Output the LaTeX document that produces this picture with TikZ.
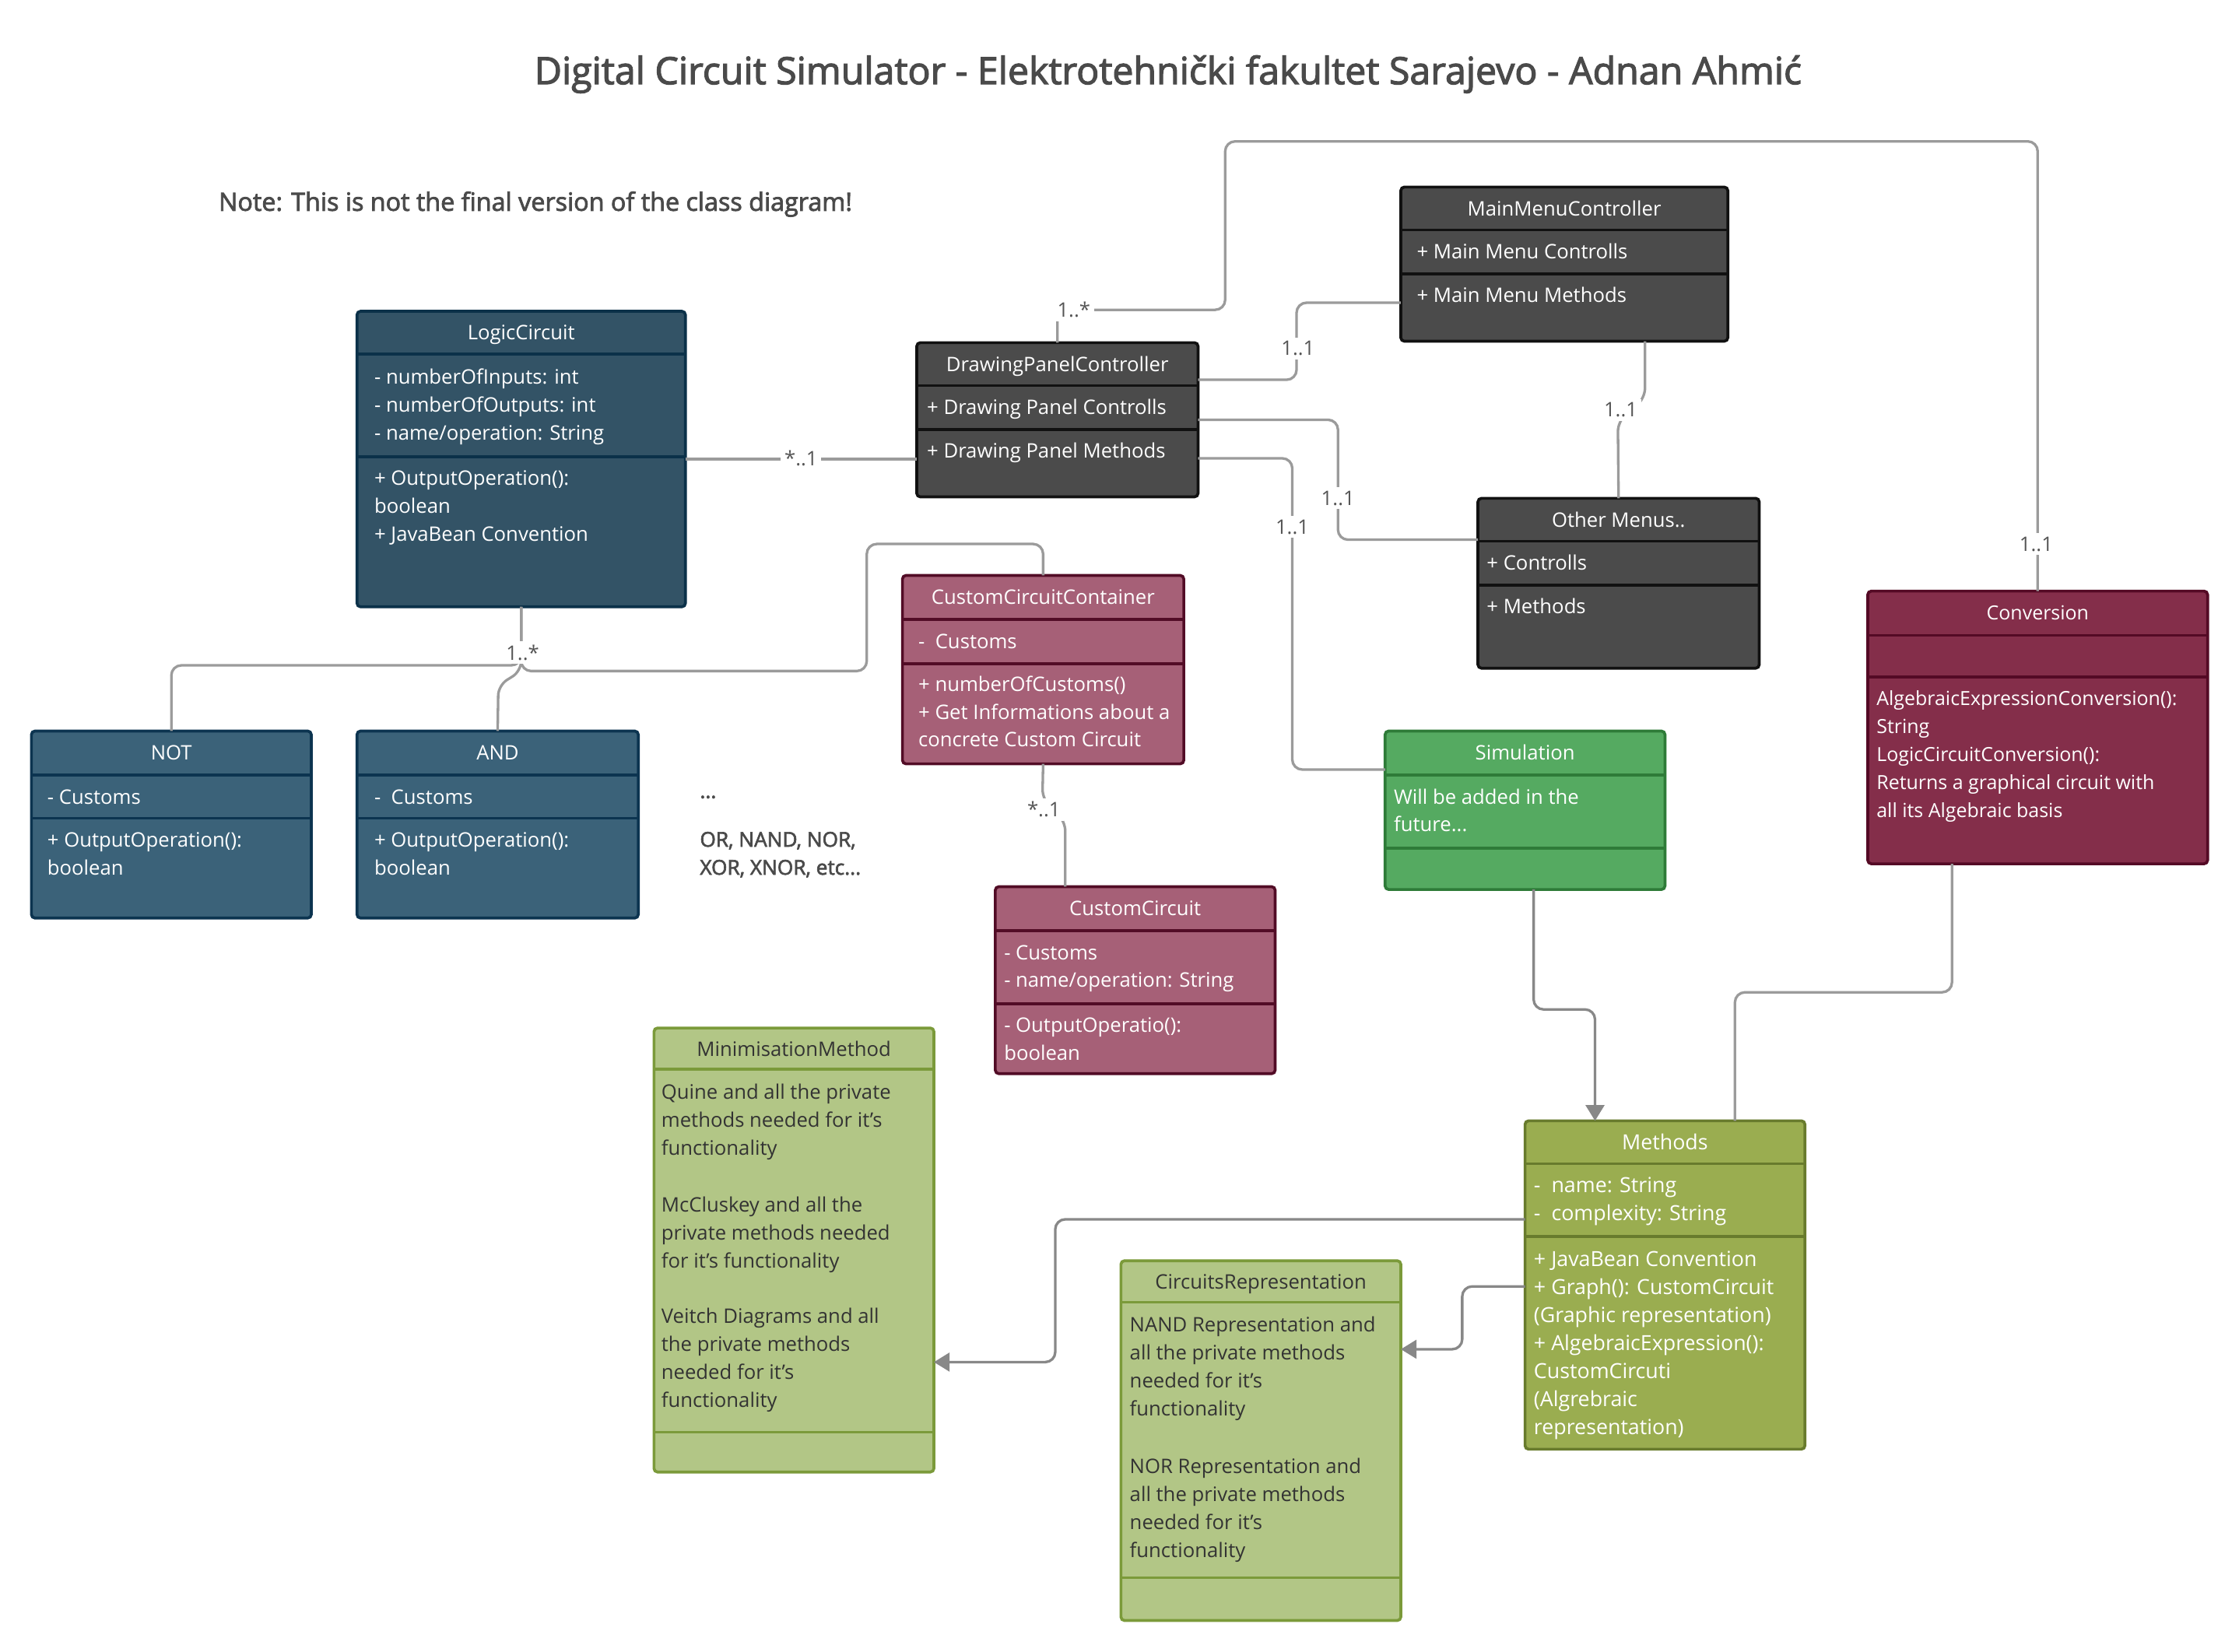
\documentclass[tikz,border=0pt]{standalone}
\usepackage{fontspec}
\setmainfont{Open Sans}
\newfontfamily\semifont{Open Sans}[BoldFont={Open Sans}, BoldFeatures={FakeBold=2.5}]
\usetikzlibrary{arrows.meta,calc}

\definecolor{lcfill}{HTML}{335366}   \definecolor{lcline}{HTML}{0B3149}   \definecolor{lctext}{HTML}{FFFFFF}
\definecolor{gatefill}{HTML}{3B6279} \definecolor{gateline}{HTML}{0C3450} \definecolor{gatetext}{HTML}{FFFFFF}
\definecolor{ctrlfill}{HTML}{4B4B4B} \definecolor{ctrlline}{HTML}{111111} \definecolor{ctrltext}{HTML}{FFFFFF}
\definecolor{custfill}{HTML}{A66077} \definecolor{custline}{HTML}{520C26} \definecolor{custtext}{HTML}{FFFFFF}
\definecolor{simfill}{HTML}{55AA61}  \definecolor{simline}{HTML}{2E7B38}  \definecolor{simtext}{HTML}{FFFFFF}
\definecolor{convfill}{HTML}{842E4A} \definecolor{convline}{HTML}{540A25} \definecolor{convtext}{HTML}{FFFFFF}
\definecolor{methfill}{HTML}{9AAD50} \definecolor{methline}{HTML}{687B2D} \definecolor{methtext}{HTML}{FFFFFF}
\definecolor{algofill}{HTML}{B2C686} \definecolor{algoline}{HTML}{7B9A3A} \definecolor{algotext}{HTML}{333333}
\definecolor{linkgray}{HTML}{9B9B9B}
\definecolor{arrowgray}{HTML}{888888}
\definecolor{multgray}{HTML}{555555}
\definecolor{titlegray}{HTML}{4A4A4A}
\definecolor{notegray}{HTML}{4A4A4A}

\newcommand{\bodyfont}{\fontsize{14}{19.6}\selectfont}

\tikzset{
  classbox/.style={draw=#1line, fill=#1fill, line width=2pt, rounded corners=2.5pt, outer sep=0pt, inner sep=0pt},
  classsep/.style={draw=#1line, line width=2pt},
  classhead/.style={text=#1text, anchor=base, inner sep=0pt},
  classtxt/.style={text=#1text, anchor=base west, inner sep=0pt},
  assoc/.style={draw=linkgray, line width=1.8pt, rounded corners=7pt},
  uses/.style={draw=arrowgray, line width=1.8pt, rounded corners=7pt, -{Triangle[width=13pt,length=11pt]}},
  mult/.style={fill=white, text=multgray, inner sep=2.5pt},
  freetxt/.style={text=notegray, anchor=base west, inner sep=0pt, font={\semifont\bfseries\fontsize{14.3}{19.6}\selectfont}}
}

% box with compartments: name, colour, corner, width, height, separators, title
\newcommand{\umlclass}[7]{%
  \node[classbox=#2, minimum width=#4pt, minimum height=#5pt, anchor=north west] (#1) at #3 {};
  \foreach \s in {#6}
    \draw[classsep=#2] ($(#1.north west)+(0,\s)$) -- ($(#1.north east)+(0,\s)$);
  \node[classhead=#2] (#1-head) at ($(#1.north)+(0,20)$) {#7};
}
% lines of text: name, colour, x, first baseline, lines
\newcommand{\umllines}[5]{%
  \foreach \row [count=\i] in {#5}
    \node[classtxt=#2] (#1-\i) at (#3,{#4+19.6*(\i-1)}) {\row};
}

\begin{document}
\begin{tikzpicture}[x=1pt,y=-1pt,font=\bodyfont]
\useasboundingbox[fill=white] (0,0) rectangle (1568,1157);

\node[text=titlegray, font={\semifont\bfseries\fontsize{26.3}{30}\selectfont}] (title) at (818,52)
  {Digital Circuit Simulator - Elektrotehnički fakultet Sarajevo - Adnan Ahmić};
\node[text=notegray, anchor=west, inner sep=0pt, font={\semifont\bfseries\fontsize{17.6}{20}\selectfont}] (note) at (153,143)
  {Note: This is not the final version of the class diagram!};

% classes
\umlclass{logic}{lc}{(250,218)}{230}{207}{30,102}{LogicCircuit}
\umllines{logic-a}{lc}{262}{269}{- numberOfInputs: int, - numberOfOutputs: int, - name/operation: String}
\umllines{logic-m}{lc}{262}{340}{+ OutputOperation():, boolean, + JavaBean Convention}

\umlclass{not}{gate}{(22,512)}{196}{131}{31,61}{NOT}
\umllines{not-a}{gate}{33}{563}{- Customs}
\umllines{not-m}{gate}{33}{593}{+ OutputOperation():, boolean}

\umlclass{and}{gate}{(250,512)}{197}{131}{31,61}{AND}
\umllines{and-a}{gate}{262}{563}{-\ \ Customs}
\umllines{and-m}{gate}{262}{593}{+ OutputOperation():, boolean}

\node[freetxt] (dots) at (490,559) {...};
\foreach \row [count=\i] in {{OR, NAND, NOR,}, {XOR, XNOR, etc.{}..}}
  \node[freetxt] (others-\i) at (490,{593+19.6*(\i-1)}) {\row};

\umlclass{dpc}{ctrl}{(642,240)}{197}{108}{30,61}{DrawingPanelController}
\umllines{dpc-a}{ctrl}{649}{290}{+ Drawing Panel Controlls}
\umllines{dpc-m}{ctrl}{649}{321}{+ Drawing Panel Methods}

\umlclass{mmc}{ctrl}{(981,131)}{229}{108}{30,61}{MainMenuController}
\umllines{mmc-a}{ctrl}{992}{181}{+ Main Menu Controlls}
\umllines{mmc-m}{ctrl}{992}{212}{+ Main Menu Methods}

\umlclass{other}{ctrl}{(1035,349)}{197}{119}{30,61}{Other Menus..}
\umllines{other-a}{ctrl}{1041}{399}{+ Controlls}
\umllines{other-m}{ctrl}{1041}{430}{+ Methods}

\umlclass{ccc}{cust}{(632,403)}{197}{132}{31,62}{CustomCircuitContainer}
\umllines{ccc-a}{cust}{643}{454}{-\ \ Customs}
\umllines{ccc-m}{cust}{643}{484}{+ numberOfCustoms(), + Get Informations about a, concrete Custom Circuit}

\umlclass{cc}{cust}{(697,621)}{196}{131}{31,82}{CustomCircuit}
\umllines{cc-a}{cust}{703}{672}{- Customs, - name/operation: String}
\umllines{cc-m}{cust}{703}{723}{- OutputOperatio():, boolean}

\umlclass{sim}{sim}{(970,512)}{196}{111}{31,82}{Simulation}
\umllines{sim-a}{sim}{976}{563}{Will be added in the, future.{}..}

\begin{scope}[every node/.append style={font=\fontsize{13.6}{19.6}\selectfont}]
\umlclass{conv}{conv}{(1308,414)}{238}{191}{31,60}{Conversion}
\umllines{conv-m}{conv}{1314}{494}{AlgebraicExpressionConversion():, String, LogicCircuitConversion():,
  Returns a graphical circuit with, all its Algebraic basis}
\end{scope}

\begin{scope}[every node/.append style={font=\fontsize{14.6}{19.6}\selectfont}]
\umlclass{meth}{meth}{(1068,785)}{196}{230}{30,81}{Methods}
\umllines{meth-a}{meth}{1074}{835}{-\ \ name: String, -\ \ complexity: String}
\umllines{meth-m}{meth}{1074}{887}{+ JavaBean Convention, + Graph(): CustomCircuit, (Graphic representation),
  + AlgebraicExpression():, CustomCircuti, {(Algrebraic}, {representation)}}
\end{scope}

\umlclass{minim}{algo}{(458,720)}{196}{311}{29,283}{MinimisationMethod}
\umllines{minim-q}{algo}{463}{770}{Quine and all the private, methods needed for it's, functionality}
\umllines{minim-m}{algo}{463}{849}{McCluskey and all the, private methods needed, for it's functionality}
\umllines{minim-v}{algo}{463}{927}{Veitch Diagrams and all, the private methods, needed for it's, functionality}

\umlclass{circ}{algo}{(785,883)}{196}{252}{29,222}{CircuitsRepresentation}
\umllines{circ-a}{algo}{791}{933}{NAND Representation and, all the private methods, needed for it's, functionality}
\umllines{circ-o}{algo}{791}{1032}{NOR Representation and, all the private methods, needed for it's, functionality}

% connectors
\draw[assoc] (logic.east) -- (logic.east -| dpc.west);
\draw[assoc] (dpc.north) |- (858,217) |- (conv.north |- 0,99) -- (conv.north);
\draw[assoc] (dpc.east |- 0,266) -| (908,212) -- (mmc.west |- 0,212);
\draw[assoc] (mmc.south -| 1152,0) -- (1152,279) -- (1133,295) -- (other.north);
\draw[assoc] (dpc.east) -| (937,378) -- (other.west |- 0,378);
\draw[assoc] (dpc.east |- 0,321) -| (905,539) -- (sim.west |- 0,539);
\draw[assoc] (logic.south) |- (not.north |- 0,466) -- (not.north);
\draw[assoc] (logic.south) -- (365,470) -- (349,480) -- (and.north);
\draw[assoc] (logic.south) |- (607,470) |- (ccc.north |- 0,381) -- (ccc.north);
\draw[assoc] (ccc.south) -- (730,560) -- (746,575) -- (cc.north -| 746,0);
\draw[assoc] (conv.south -| 1367,0) |- (1215,695) -- (meth.north -| 1215,0);
\draw[uses] (sim.south -| 1074,0) -- (1074,707) -| (meth.north -| 1117,0);
\draw[uses] (meth.west |- 0,854) -| (739,954) -- (minim.east |- 0,954);
\draw[uses] (meth.west |- 0,901) -| (1024,945) -- (circ.east |- 0,945);

% multiplicities
\foreach \x/\y/\m [count=\i] in {561/321/*..1, 752/217/1..*, 909/244/1..1, 1135/287/1..1, 937/349/1..1,
  905/369/1..1, 1426/381/1..1, 366/457/1..*, 731/567/*..1}
  \node[mult] (mult-\i) at (\x,\y) {\m};
\end{tikzpicture}
\end{document}
